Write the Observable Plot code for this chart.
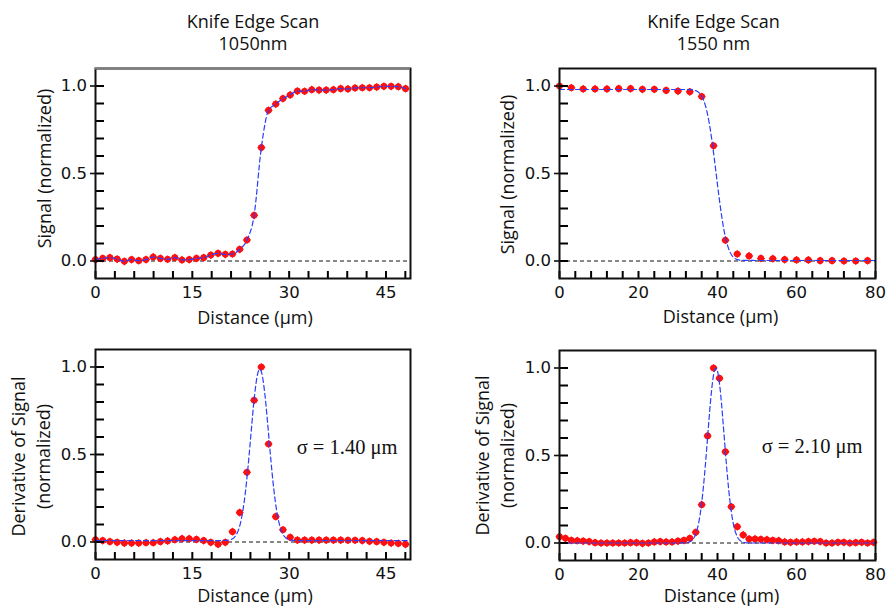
<!DOCTYPE html>
<html>
<head>
<meta charset="utf-8">
<script src="https://cdn.jsdelivr.net/npm/d3@7"></script>
<script src="https://cdn.jsdelivr.net/npm/@observablehq/plot@0.6"></script>
<style>
  body { margin: 0; background: #fff; }
  #chart { position: relative; width: 886px; height: 606px; }
  #chart svg { position: absolute; overflow: visible; background: transparent; }
</style>
</head>
<body>
<div id="chart"></div>
<script>
// ---- 1050 nm knife-edge scan (distance in µm, signal normalized) ----
const scan1050X = [0, 1.12, 2.23, 3.35, 4.47, 5.59, 6.70, 7.82, 8.94, 10.05,
  11.17, 12.29, 13.40, 14.52, 15.64, 16.76, 17.87, 18.99, 20.11, 21.22,
  22.34, 23.46, 24.57, 25.69, 26.81, 27.93, 29.04, 30.16, 31.28, 32.39,
  33.51, 34.63, 35.74, 36.86, 37.98, 39.10, 40.21, 41.33, 42.45, 43.56,
  44.68, 45.80, 46.91, 48.03];
const scan1050Signal = [0.008, 0.015, 0.019, 0.011, -0.002, 0.008, 0.002, 0.008, 0.023, 0.015,
  0.010, 0.019, 0.006, 0.008, 0.015, 0.019, 0.034, 0.044, 0.038, 0.040,
  0.067, 0.120, 0.261, 0.648, 0.861, 0.897, 0.928, 0.949, 0.971, 0.970,
  0.979, 0.977, 0.977, 0.979, 0.985, 0.983, 0.989, 0.990, 0.990, 0.994,
  0.998, 0.998, 0.996, 0.985];
const scan1050Deriv = [0.013, 0.008, 0.002, -0.002, -0.006, -0.006, -0.006, -0.004, -0.004, 0.002,
  0.006, 0.013, 0.019, 0.019, 0.015, 0.008, -0.002, -0.013, -0.002, 0.059,
  0.168, 0.398, 0.810, 1.000, 0.560, 0.145, 0.070, 0.027, 0.011, 0.011,
  0.011, 0.011, 0.011, 0.011, 0.011, 0.010, 0.010, 0.008, 0.004, 0.002,
  -0.002, -0.006, -0.008, -0.013];

// ---- 1550 nm knife-edge scan ----
const scan1550X = [0, 3, 6, 9, 12, 15, 18, 21, 24, 27, 30, 33, 36, 39, 42, 45, 48, 51,
  54, 57, 60, 63, 66, 69, 72, 75, 78];
const scan1550Signal = [1.000, 0.990, 0.983, 0.983, 0.983, 0.985, 0.985, 0.981, 0.981, 0.975,
  0.971, 0.967, 0.940, 0.658, 0.119, 0.040, 0.029, 0.015, 0.013, 0.008,
  0.006, 0.006, 0.002, 0.002, 0.000, 0.000, 0.002];
const deriv1550X = [0, 1.5, 3, 4.5, 6, 7.5, 9, 10.5, 12, 13.5, 15, 16.5, 18, 19.5, 21, 22.5,
  24, 25.5, 27, 28.5, 30, 31.5, 33, 34.5, 36, 37.5, 39, 40.5, 42, 43.5, 45, 46.5,
  48, 49.5, 51, 52.5, 54, 55.5, 57, 58.5, 60, 61.5, 63, 64.5, 66, 67.5, 69, 70.5,
  72, 73.5, 75, 76.5, 78, 79.5];
const deriv1550Values = [0.036, 0.027, 0.015, 0.013, 0.011, 0.008, 0.002, 0.000, 0.000, 0.000,
  0.000, 0.000, 0.002, 0.002, -0.002, 0.000, 0.006, 0.008, 0.006, 0.006,
  0.011, 0.015, 0.027, 0.061, 0.219, 0.612, 1.000, 0.941, 0.521, 0.207,
  0.093, 0.046, 0.023, 0.023, 0.021, 0.019, 0.015, 0.013, 0.006, 0.004,
  0.006, 0.006, 0.008, 0.010, 0.008, 0.000, 0.000, 0.004, 0.004, 0.000,
  0.002, 0.004, 0.000, 0.004];

// ---- Fitted beam widths and fit parameters ----
const sigma1050 = 1.40;
const sigma1550 = 2.10;
const gaussFit1050 = {center: 25.45, amplitude: 0.98, offset: 0.008};
const edgeFit1550 = {center: 39.7, high: 0.98, low: 0.003};
const gaussFit1550 = {center: 39.6, amplitude: 1.0, offset: 0.0};

// ---- Axis ticks ----
const yDomain = [-0.1, 1.1];
const yLabelTicks = [0, 0.5, 1.0];
const yMinorTicks = [0, 0.1, 0.2, 0.3, 0.4, 0.5, 0.6, 0.7, 0.8, 0.9, 1.0];
const xLabelTicks1050 = [0, 15, 30, 45];
const xMinorTicks1050 = [0, 3, 6, 9, 12, 15, 18, 21, 24, 27, 30, 33, 36, 39, 42, 45, 48];
const xLabelTicks1550 = [0, 20, 40, 60, 80];
const xMinorTicks1550 = [0, 4, 8, 12, 16, 20, 24, 28, 32, 36, 40, 44, 48, 52, 56, 60, 64, 68, 72, 76, 80];

// error function (Abramowitz & Stegun 7.1.26)
function erf(x) {
  const s = Math.sign(x); x = Math.abs(x);
  const t = 1 / (1 + 0.3275911 * x);
  const y = 1 - (((((1.061405429 * t - 1.453152027) * t) + 1.421413741) * t - 0.284496736) * t + 0.254829592) * t * Math.exp(-x * x);
  return s * y;
}
const gauss = (p, sigma) => x => p.offset + p.amplitude * Math.exp(-((x - p.center) ** 2) / (2 * sigma * sigma));
const edgeDown = (p, sigma) => x => p.low + (p.high - p.low) * 0.5 * (1 - erf((x - p.center) / (Math.SQRT2 * sigma)));

const rows1050 = scan1050X.map((x, i) => ({x, signal: scan1050Signal[i], deriv: scan1050Deriv[i]}));
const rows1550 = scan1550X.map((x, i) => ({x, signal: scan1550Signal[i]}));
const rowsDeriv1550 = deriv1550X.map((x, i) => ({x, deriv: deriv1550Values[i]}));

const fitCurve = (x0, x1, f) => d3.range(x0, x1 + 1e-9, 0.1).map(x => ({x, y: f(x)}));

const RED = "#ff1010";
const BLUE = "#2a3cff";
const TITLE_FONT = "Open Sans";
const TITLE_SIZE = 18;
const Y_TICK_LEN = 9;   // px, inward from the left edge
const X_TICK_LEN = 7;   // px, inward from the bottom edge

function pointMarks(rows, yKey) {
  return [
    Plot.dot(rows, {x: "x", y: yKey, r: 3.3, fill: RED, stroke: "none"}),
    Plot.dot(rows, {x: "x", y: yKey, r: 3.7, symbol: "diamond2", fill: RED, stroke: "none"})
  ];
}
function dashedLine(data, yKey, curve) {
  return Plot.line(data, {x: "x", y: yKey, stroke: BLUE, strokeWidth: 1.2, strokeDasharray: "5,3", curve: curve || "linear"});
}

function panel(opts) {
  const {left, top, width, height, margin, xDomain, xLabels, xMinor, marks,
         titleLines, titleDx, yTitleLines, yTitleDx, yTitleDy, xTitleDy, xTitleDx, topEdge, note} = opts;
  const frameW = width - margin[1] - margin[3];
  const frameH = height - margin[0] - margin[2];
  // tick lengths expressed in data units of each axis
  const yTickSpan = Y_TICK_LEN * (xDomain[1] - xDomain[0]) / frameW;
  const xTickSpan = X_TICK_LEN * (yDomain[1] - yDomain[0]) / frameH;
  const textMarks = [];
  if (titleLines) {
    titleLines.forEach((t, i) => textMarks.push(Plot.text([t], {
      text: d => d, frameAnchor: "top", textAnchor: "middle", lineAnchor: "middle",
      dx: titleDx, dy: -46.5 + i * 22.5,
      fontFamily: TITLE_FONT, fontSize: TITLE_SIZE, fill: "#111"
    })));
  }
  yTitleLines.forEach((t, i) => textMarks.push(Plot.text([t], {
    text: d => d, frameAnchor: "left", textAnchor: "middle", lineAnchor: "middle",
    rotate: -90, dx: yTitleDx[i], dy: yTitleDy,
    fontFamily: TITLE_FONT, fontSize: TITLE_SIZE, fill: "#111"
  })));
  textMarks.push(Plot.text(["Distance (µm)"], {
    text: d => d, frameAnchor: "bottom", textAnchor: "middle", lineAnchor: "middle",
    dx: xTitleDx, dy: xTitleDy,
    fontFamily: TITLE_FONT, fontSize: TITLE_SIZE, fill: "#111"
  }));
  if (note) {
    textMarks.push(Plot.text([note.text], {
      text: d => d, frameAnchor: "right", textAnchor: "end", lineAnchor: "middle",
      dx: note.dx, dy: note.dy,
      fontFamily: "Liberation Serif", fontSize: 20.5, fill: "#111"
    }));
  }
  const svg = Plot.plot({
    width, height,
    marginTop: margin[0], marginRight: margin[1], marginBottom: margin[2], marginLeft: margin[3],
    x: {domain: xDomain, label: null},
    y: {domain: yDomain, label: null},
    style: {fontFamily: "DejaVu Sans", fontSize: "16.5px", overflow: "visible", background: "transparent", color: "#111"},
    marks: [
      Plot.ruleY([0], {stroke: "#111", strokeWidth: 1, strokeDasharray: "4,3"}),
      ...marks,
      // short inward ticks along the left and bottom edges of the frame
      Plot.ruleY(yMinorTicks, {y: d => d, x1: xDomain[0], x2: xDomain[0] + yTickSpan, stroke: "black", strokeWidth: 2}),
      Plot.ruleX(xMinor, {x: d => d, y1: yDomain[0], y2: yDomain[0] + xTickSpan, stroke: "black", strokeWidth: 2}),
      Plot.frame({stroke: "#111", strokeWidth: 2}),
      ...(topEdge ? [Plot.ruleY([yDomain[1]], {stroke: "#808080", strokeWidth: 2})] : []),
      Plot.axisY({ticks: yLabelTicks, tickSize: 5, tickPadding: 3.5, tickFormat: d3.format(".1f"), strokeWidth: 1.6}),
      Plot.axisX({ticks: xLabels, tickSize: 0, tickPadding: 8, tickFormat: d => String(d)}),
      ...textMarks
    ]
  });
  svg.style.left = left + "px";
  svg.style.top = top + "px";
  document.getElementById("chart").appendChild(svg);
}

// Top-left: edge scan at 1050 nm
panel({
  left: 0, top: 0, width: 443, height: 330, margin: [68, 33, 52, 95],
  xDomain: [0, 48.8], xLabels: xLabelTicks1050, xMinor: xMinorTicks1050,
  titleLines: ["Knife Edge Scan", "1050nm"], titleDx: 0,
  yTitleLines: ["Signal (normalized)"], yTitleDx: [-50], yTitleDy: -5,
  xTitleDx: 2, xTitleDy: 40, topEdge: true,
  marks: [
    ...pointMarks(rows1050, "signal"),
    dashedLine(rows1050, "signal", "monotone-x")
  ]
});

// Top-right: edge scan at 1550 nm with error-function fit
panel({
  left: 443, top: 0, width: 443, height: 330, margin: [68, 11, 52, 116],
  xDomain: [0, 80], xLabels: xLabelTicks1550, xMinor: xMinorTicks1550,
  titleLines: ["Knife Edge Scan", "1550 nm"], titleDx: -4,
  yTitleLines: ["Signal (normalized)"], yTitleDx: [-51], yTitleDy: 1,
  xTitleDx: 3, xTitleDy: 39, topEdge: false,
  marks: [
    ...pointMarks(rows1550, "signal"),
    dashedLine(fitCurve(0, 80, edgeDown(edgeFit1550, sigma1550)), "y")
  ]
});

// Bottom-left: derivative at 1050 nm with Gaussian fit
panel({
  left: 0, top: 330, width: 443, height: 276, margin: [19, 33, 47, 95],
  xDomain: [0, 48.8], xLabels: xLabelTicks1050, xMinor: xMinorTicks1050,
  yTitleLines: ["Derivative of Signal", "(normalized)"], yTitleDx: [-76, -51], yTitleDy: 2,
  xTitleDx: 2, xTitleDy: 37,
  note: {text: `σ = ${sigma1050.toFixed(2)} μm`, dx: -13, dy: -7},
  marks: [
    ...pointMarks(rows1050, "deriv"),
    dashedLine(fitCurve(0, 48.5, gauss(gaussFit1050, sigma1050)), "y")
  ]
});

// Bottom-right: derivative at 1550 nm with Gaussian fit
panel({
  left: 443, top: 330, width: 443, height: 276, margin: [20, 11, 46, 116],
  xDomain: [0, 80], xLabels: xLabelTicks1550, xMinor: xMinorTicks1550,
  yTitleLines: ["Derivative of Signal", "(normalized)"], yTitleDx: [-76, -51], yTitleDy: 0,
  xTitleDx: 4, xTitleDy: 36,
  note: {text: `σ = ${sigma1550.toFixed(2)} μm`, dx: -13, dy: -9},
  marks: [
    ...pointMarks(rowsDeriv1550, "deriv"),
    dashedLine(fitCurve(0, 80, gauss(gaussFit1550, sigma1550)), "y")
  ]
});
</script>
</body>
</html>
